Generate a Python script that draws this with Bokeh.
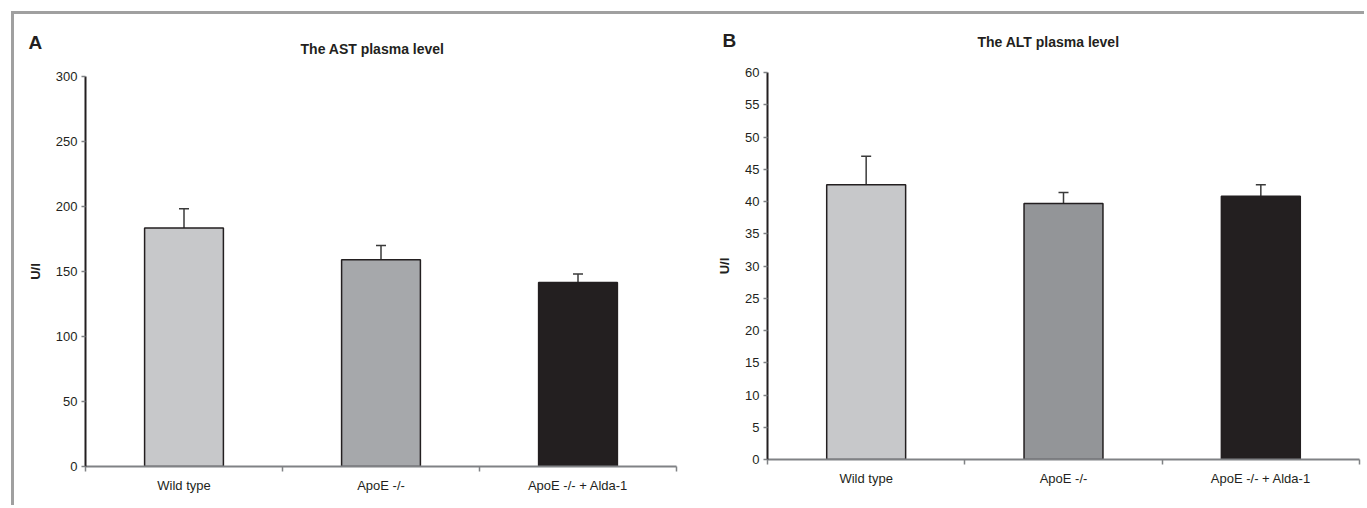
from bokeh.plotting import figure
from bokeh.models import (Range1d, FixedTicker, SingleIntervalTicker, CustomJSTickFormatter,
                          Whisker, ColumnDataSource, Label, TeeHead, Div)
from bokeh.embed import file_html
from bokeh.resources import INLINE

categories = ["Wild type", "ApoE -/-", "ApoE -/- + Alda-1"]

ast_values = [183.5, 159.0, 141.5]
ast_errors = [14.7, 11.0, 6.5]
ast_colors = ["#c7c8ca", "#a6a8ab", "#231f20"]

alt_values = [42.6, 39.7, 40.8]
alt_errors = [4.4, 1.7, 1.8]
alt_colors = ["#c7c8ca", "#939598", "#231f20"]

FONT = "Liberation Sans"
TXT = "#231f20"


def make_panel(values, errors, colors, ymax, step, width, height, bl, br, bt, bb, left, top):
    n = len(categories)
    centers = [i + 0.5 for i in range(n)]
    bounds = [i for i in range(n + 1)]
    src = ColumnDataSource(dict(
        x=centers, top=values, color=colors,
        upper=[v + e for v, e in zip(values, errors)], lower=values))

    p = figure(width=width, height=height, output_backend="svg", toolbar_location=None,
               x_range=Range1d(0, n), y_range=Range1d(0, ymax),
               min_border_left=bl, min_border_right=br, min_border_top=bt, min_border_bottom=bb,
               styles={"position": "absolute", "left": f"{left}px", "top": f"{top}px"})
    p.outline_line_color = None
    p.xgrid.visible = False
    p.ygrid.visible = False
    p.background_fill_color = None
    p.border_fill_color = None

    p.vbar(x="x", top="top", width=0.4, bottom=0, fill_color="color",
           line_color="#231f20", line_width=1.5, source=src)
    w = Whisker(base="x", upper="upper", lower="lower", source=src,
                line_color="#3a3a3a", line_width=1.5,
                upper_head=TeeHead(size=10, line_color="#3a3a3a", line_width=1.5),
                lower_head=None)
    p.add_layout(w)

    xa = p.xaxis[0]
    xa.ticker = FixedTicker(ticks=centers, minor_ticks=bounds)
    xa.formatter = CustomJSTickFormatter(args=dict(labels=categories),
                                         code="return labels[Math.floor(tick)];")
    xa.axis_line_color = "#808285"
    xa.axis_line_width = 2
    xa.major_tick_out = 0
    xa.major_tick_in = 0
    xa.minor_tick_out = 5
    xa.minor_tick_in = 0
    xa.minor_tick_line_color = "#808285"
    xa.minor_tick_line_width = 1.5
    xa.major_label_text_font = FONT
    xa.major_label_text_font_size = "13px"
    xa.major_label_text_color = TXT
    xa.major_label_standoff = 6

    ya = p.yaxis[0]
    ya.ticker = SingleIntervalTicker(interval=step, num_minor_ticks=0)
    ya.axis_line_color = "#231f20"
    ya.axis_line_width = 2
    ya.major_tick_out = 4
    ya.major_tick_in = 0
    ya.minor_tick_out = 0
    ya.minor_tick_in = 0
    ya.major_tick_line_color = "#808285"
    ya.major_tick_line_width = 1.5
    ya.major_label_text_font = FONT
    ya.major_label_text_font_size = "13px"
    ya.major_label_text_color = TXT
    ya.major_label_standoff = 4
    ya.axis_label = "U/l"
    ya.axis_label_text_font = FONT
    ya.axis_label_text_font_style = "bold"
    ya.axis_label_text_font_size = "13px"
    ya.axis_label_text_color = TXT
    ya.axis_label_standoff = 10
    return p


pA = make_panel(ast_values, ast_errors, ast_colors, 300, 50,
                670, 448, 71, 8, 16, 42, 14, 60)
pB = make_panel(alt_values, alt_errors, alt_colors, 60, 5,
                683, 448, 83, 8, 12, 49, 684, 60)

# header strip holding the panel letters and titles (coordinates in page pixels)
head = figure(width=1353, height=46, output_backend="svg", toolbar_location=None,
              x_range=Range1d(14, 1367), y_range=Range1d(60, 14),
              min_border=0, min_border_left=0, min_border_right=0,
              min_border_top=0, min_border_bottom=0,
              styles={"position": "absolute", "left": "14px", "top": "14px"})
head.axis.visible = False
head.grid.visible = False
head.outline_line_color = None
head.background_fill_color = None
head.border_fill_color = None

panel_letters = ["A", "B"]
panel_titles = ["The AST plasma level", "The ALT plasma level"]
letter_xy = [(28, 42), (722, 40)]
title_xy = [(372, 48), (1048, 41)]
for letter, (lx, ly) in zip(panel_letters, letter_xy):
    head.add_layout(Label(x=lx, y=ly, text=letter, text_font=FONT, text_font_size="19px",
                          text_font_style="bold", text_color=TXT,
                          text_align="left", text_baseline="middle"))
for title, (tx, ty) in zip(panel_titles, title_xy):
    head.add_layout(Label(x=tx, y=ty, text=title, text_font=FONT, text_font_size="14px",
                          text_font_style="bold", text_color=TXT,
                          text_align="center", text_baseline="middle"))

frame = Div(text="", width=1353, height=494, margin=0,
            styles={"position": "absolute", "left": "11px", "top": "11px",
                    "border-top": "3px solid #a0a0a0", "border-left": "3px solid #a0a0a0"})

open("out.html", "w").write(file_html([frame, head, pA, pB], INLINE))
